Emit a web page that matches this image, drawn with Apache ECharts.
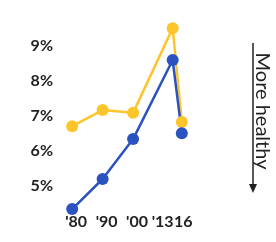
<!DOCTYPE html>
<html><head><meta charset="utf-8">
<script src="https://cdn.jsdelivr.net/npm/echarts@6/dist/echarts.min.js"></script>
<style>html,body{margin:0;padding:0;background:#fff}#c{width:276px;height:242px}</style>
</head><body><div id="c"></div>
<script>
const years = [1980, 1990, 2000, 2013, 2016];
const yearLabels = ["'80", "'90", "'00", "'13", "16"];
const goldValues = [6.71, 7.17, 7.09, 9.51, 6.83];
const blueValues = [4.34, 5.20, 6.34, 8.60, 6.51];
const yTicks = [5, 6, 7, 8, 9];
const sideNote = 'More healthy';

const chart = echarts.init(document.getElementById('c'));
const font = 'Lato, "Noto Sans", sans-serif';
function pairs(vals){ return years.map((y,i)=>[y, vals[i]]); }
const labelKeys = ['r', 'r', 'r', 'l', 'e'];
chart.setOption({
  animation: false,
  grid: {left: 60, right: 82, top: 11, bottom: 38.5},
  xAxis: {
    type: 'value', min: 1976, max: 2020, interval: 1,
    axisLine: {show: false}, axisTick: {show: false}, splitLine: {show: false},
    axisLabel: {
      margin: 10, fontFamily: font, fontSize: 16, color: '#222', fontWeight: 'bold',
      showMinLabel: false, showMaxLabel: false,
      formatter: function(v){
        const i = years.indexOf(Math.round(v));
        if (i < 0) return '';
        return '{' + labelKeys[i] + '|' + yearLabels[i] + '}';
      },
      rich: {
        r: {fontFamily: font, fontSize: 16, color: '#222', fontWeight: 'bold', padding: [0,0,0,8]},
        l: {fontFamily: font, fontSize: 16, color: '#222', fontWeight: 'bold', padding: [0,20,0,0]},
        e: {fontFamily: font, fontSize: 16, color: '#222', fontWeight: 'bold', padding: [0,0,0,3]}
      }
    }
  },
  yAxis: {
    type: 'value', min: 4.5, max: 10, interval: 0.5,
    axisLine: {show: false}, axisTick: {show: false}, splitLine: {show: false},
    axisLabel: {
      margin: 7, fontFamily: font, fontSize: 16, color: '#222', fontWeight: 'bold',
      formatter: function(v){ return yTicks.indexOf(v) >= 0 ? v + '%' : ''; }
    }
  },
  series: [
    {type: 'line', data: pairs(goldValues), symbol: 'circle', symbolSize: 12, clip: false,
     lineStyle: {color: '#FDC52C', width: 2.5}, itemStyle: {color: '#FDC52C'}},
    {type: 'line', data: pairs(blueValues), symbol: 'circle', symbolSize: 12, clip: false,
     lineStyle: {color: '#2A52C0', width: 2.5}, itemStyle: {color: '#2A52C0'}}
  ],
  graphic: [
    {type: 'line', shape: {x1: 253, y1: 43, x2: 253, y2: 186}, style: {stroke: '#222', lineWidth: 1.5}},
    {type: 'polygon', shape: {points: [[249, 184], [257, 184], [253, 193]]}, style: {fill: '#222'}},
    {type: 'text', x: 262, y: 111, rotation: -Math.PI/2,
     style: {text: sideNote, fontFamily: font, fontSize: 20, fill: '#222', align: 'center', verticalAlign: 'middle'}}
  ]
});
</script></body></html>
